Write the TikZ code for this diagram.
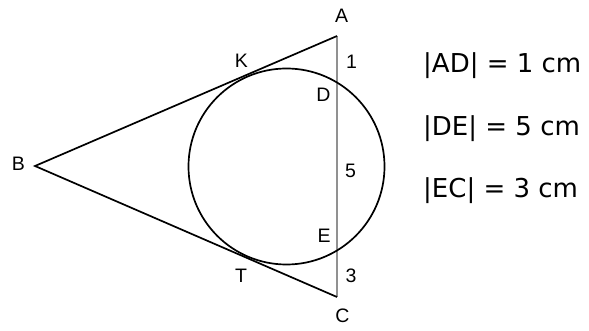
\documentclass[tikz,border=0pt]{standalone}
\usepackage{fontspec}
\setmainfont{Liberation Sans}
\newfontfamily\lenfont{DejaVu Sans}
\usepackage{tikz}
\usetikzlibrary{calc}
\definecolor{chord}{RGB}{145,145,145}

\begin{document}
\begin{tikzpicture}[
  x=1pt, y=-1pt,
  edge/.style={line width=1.7pt, black},
  chordline/.style={line width=1.9pt, chord},
  lbl/.style={inner sep=0pt, font=\fontsize{19.5}{19.5}\selectfont},
  lenlbl/.style={inner sep=0pt, anchor=base west, font=\lenfont\fontsize{26}{26}\selectfont}
]
\path[use as bounding box] (0,0) rectangle (589,331);
% Points
\coordinate (A) at (337,36);
\coordinate (B) at (35,166);
\coordinate (C) at (337,297);
\coordinate (O) at (286.5,166.5);
% Triangle and circle
\draw[chordline] (A) -- (C);
\draw[edge, line join=miter] (A) -- (B) -- (C);
\draw[edge] (O) circle (98);
% Point labels
\node[lbl] (lA) at (341.5,16) {A};
\node[lbl] (lB) at (18.5,163.5) {B};
\node[lbl] (lC) at (342.5,315.5) {C};
\node[lbl] (lK) at (241.5,61) {K};
\node[lbl] (lD) at (323.5,95) {D};
\node[lbl] (lE) at (324,236) {E};
\node[lbl] (lT) at (241,276) {T};
% Segment lengths
\node[lbl] (n1) at (351.5,61.5) {1};
\node[lbl] (n5) at (350.5,170.5) {5};
\node[lbl] (n3) at (351,276) {3};
% Given data
\node[lenlbl] (AD) at (423,73) {|AD| = 1 cm};
\node[lenlbl] (DE) at (423,136) {|DE| = 5 cm};
\node[lenlbl] (EC) at (423,198) {|EC| = 3 cm};
\end{tikzpicture}
\end{document}
